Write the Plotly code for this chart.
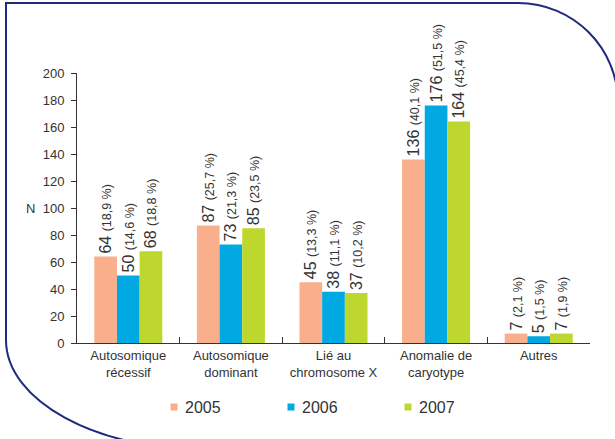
import plotly.graph_objects as go

# Categories and yearly counts (N) with their share of the year's total
categories = ["Autosomique<br>récessif", "Autosomique<br>dominant", "Lié au<br>chromosome X",
              "Anomalie de<br>caryotype", "Autres"]
years = ["2005", "2006", "2007"]
counts_2005 = [64, 87, 45, 136, 7]
counts_2006 = [50, 73, 38, 176, 5]
counts_2007 = [68, 85, 37, 164, 7]
pct_2005 = [18.9, 25.7, 13.3, 40.1, 2.1]
pct_2006 = [14.6, 21.3, 11.1, 51.5, 1.5]
pct_2007 = [18.8, 23.5, 10.2, 45.4, 1.9]
y_ticks = [0, 20, 40, 60, 80, 100, 120, 140, 160, 180, 200]

colors = ["#F9AF8B", "#00A9E1", "#BED72F"]
TEXT = "#333333"
FONT = "Liberation Sans, Arial, sans-serif"

W, H = 615, 439
ML, MR, MT, MB = 77, 25, 73, 96
PW, PH = W - ML - MR, H - MT - MB


def label(v, p):
    pct = f"{p:.1f}".replace(".", ",")
    return f"{v} <span style='font-size:12.5px'>({pct} %)</span>"


def px(x, y):
    """Convert page pixels to paper coordinates."""
    return (x - ML) / PW, (MT + PH - y) / PH


def pt(x, y):
    a, b = px(x, y)
    return f"{a:.5f},{b:.5f}"


fig = go.Figure()
for i, (name, vals, pcts, col) in enumerate(zip(years, [counts_2005, counts_2006, counts_2007],
                                                [pct_2005, pct_2006, pct_2007], colors)):
    fig.add_trace(go.Bar(
        x=categories, y=vals, name=name, marker=dict(color=col, line=dict(width=0)),
        text=[label(v, p) for v, p in zip(vals, pcts)],
        textposition="outside", textangle=-90, cliponaxis=False, constraintext="none",
        textfont=dict(size=16, color=TEXT, family=FONT),
        showlegend=False, hoverinfo="skip",
    ))
    # legend entry: small square swatch followed by the year
    sx = 174 + 117 * i
    x0, y0 = px(sx - 3.5, 410.5)
    x1, y1 = px(sx + 3.5, 403.5)
    fig.add_shape(type="rect", x0=x0, y0=y0, x1=x1, y1=y1, xref="paper", yref="paper",
                  fillcolor=col, line=dict(width=0))
    tx, ty = px(sx + 9, 407)
    fig.add_annotation(text=name, x=tx, y=ty, xref="paper", yref="paper", showarrow=False,
                       xanchor="left", yanchor="middle",
                       font=dict(size=16, color=TEXT, family=FONT))

k = 0.5523
# rounded frame: ellipse quadrant bottom-left, circular quadrant top-right
cx1, cy1, rx1, ry1 = 208, 340, 202, 110
cx2, cy2, r2 = 518, 103, 100
path = (
    f"M{pt(cx1, cy1 + ry1)} "
    f"C{pt(cx1 - k * rx1, cy1 + ry1)} {pt(cx1 - rx1, cy1 + k * ry1)} {pt(cx1 - rx1, cy1)} "
    f"L{pt(cx1 - rx1, 3)} L{pt(cx2, 3)} "
    f"C{pt(cx2 + k * r2, 3)} {pt(cx2 + r2, cy2 - k * r2)} {pt(cx2 + r2, cy2)} "
    f"L{pt(cx2 + r2, 470)}"
)
fig.add_shape(type="path", path=path, xref="paper", yref="paper",
              line=dict(color="#1E2A7E", width=2), layer="above")

nx, ny = px(30, 208)
fig.add_annotation(text="N", x=nx, y=ny, xref="paper", yref="paper", showarrow=False,
                   xanchor="center", yanchor="middle",
                   font=dict(size=13, color=TEXT, family=FONT))

fig.update_layout(
    width=W, height=H, margin=dict(l=ML, r=MR, t=MT, b=MB),
    paper_bgcolor="white", plot_bgcolor="white",
    barmode="group", bargap=0.337, bargroupgap=0,
    font=dict(family=FONT, color=TEXT),
    showlegend=False,
    xaxis=dict(showline=True, linecolor=TEXT, linewidth=1, ticks="inside", ticklen=6,
               tickcolor=TEXT, tickson="boundaries", tickfont=dict(size=13, color=TEXT),
               showgrid=False, zeroline=False, fixedrange=True),
    yaxis=dict(range=[0, 200], tickvals=y_ticks, showline=True, linecolor=TEXT, linewidth=1,
               ticks="outside", ticklen=5, tickcolor=TEXT, tickfont=dict(size=13, color=TEXT),
               showgrid=False, zeroline=False, ticklabelstandoff=4, fixedrange=True),
)

fig.write_html("out.html")
